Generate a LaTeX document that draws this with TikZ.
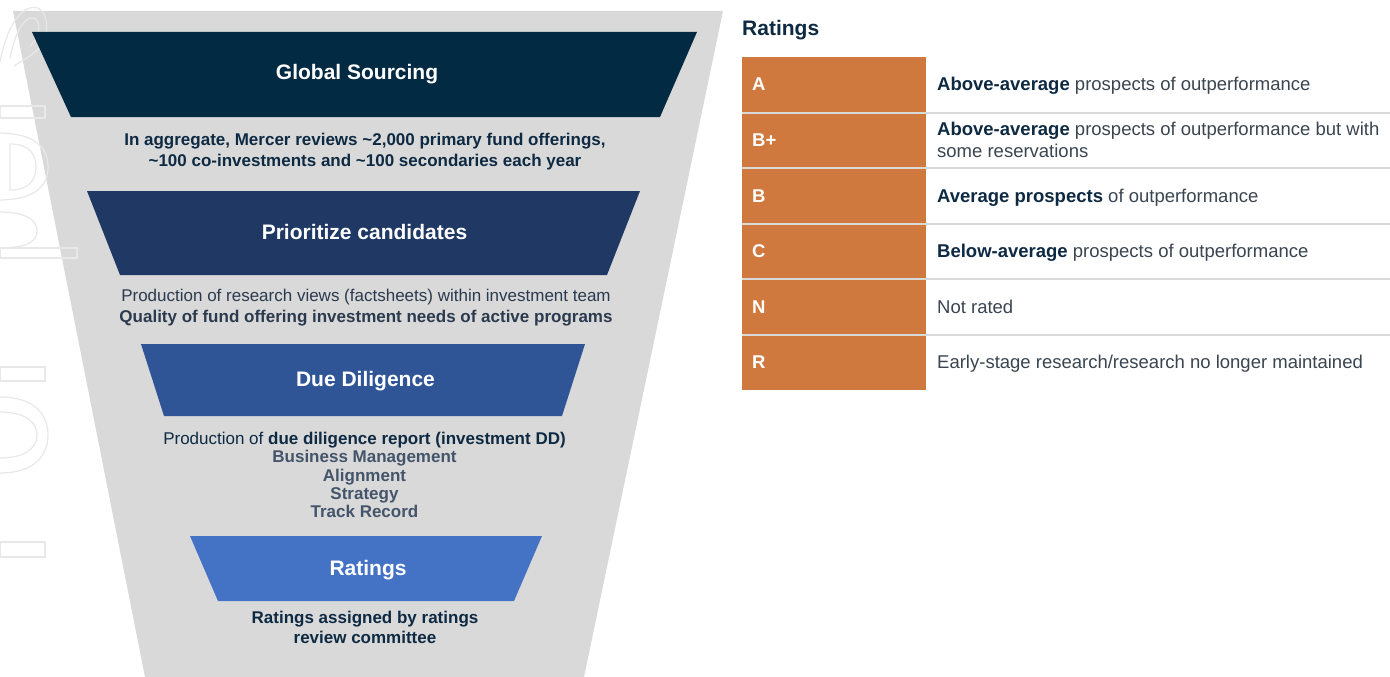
\documentclass[tikz,border=0pt]{standalone}
\usepackage{fontspec}
\setmainfont{Liberation Sans}
\definecolor{funnelgray}{HTML}{D9D9D9}
\definecolor{bandA}{HTML}{022A43}
\definecolor{bandB}{HTML}{1F3864}
\definecolor{bandC}{HTML}{2F5597}
\definecolor{bandD}{HTML}{4472C4}
\definecolor{rateorange}{HTML}{D0793F}
\definecolor{navytext}{HTML}{0E2A43}
\definecolor{regtext}{HTML}{3A4550}
\definecolor{slatetext}{HTML}{44546A}
\definecolor{subdark}{HTML}{2B3A4E}
\definecolor{sepgray}{HTML}{D9D9D9}
\definecolor{wmgray}{HTML}{E8E8E8}
\begin{document}
\begin{tikzpicture}[x=1pt,y=-1pt,
  band/.style={fill=#1,draw=none},
  headtxt/.style={font=\fontsize{21}{25}\selectfont\bfseries,text=white,anchor=base,inner sep=0pt},
  subtxt/.style={font=\fontsize{17}{21}\selectfont,anchor=base,inner sep=0pt},
  lettertxt/.style={font=\fontsize{18.5}{22}\selectfont\bfseries,text=white,anchor=base west,inner sep=0pt},
  desctxt/.style={font=\fontsize{18.5}{22}\selectfont,text=regtext,anchor=base west,inner sep=0pt},
  wm/.style={draw=wmgray,line width=1.2pt},
  sepline/.style={draw=sepgray,line width=2pt}]
\useasboundingbox (0,0) rectangle (1390,677);
\fill[white] (0,0) rectangle (1390,677);

% funnel background
\fill[funnelgray] (13,11) -- (723,11) -- (584,677) -- (145,677) -- cycle;

% faint watermark outlines at the left edge
\begin{scope}
\clip (0,0) rectangle (90,677);
\draw[wm] (0,62) .. controls (8,20) and (25,4) .. (38,8) .. controls (50,14) and (50,40) .. (35,52) .. controls (28,58) and (20,62) .. (14,66);
\draw[wm] (10,58) .. controls (16,28) and (26,16) .. (34,18) .. controls (42,22) and (40,38) .. (30,46);
\draw[wm] (0,106) rectangle (45,118);
\draw[wm] (-2,133) .. controls (38,133) and (48,150) .. (48,167) .. controls (48,184) and (38,200) .. (-2,200);
\draw[wm] (10,144) .. controls (30,144) and (36,155) .. (36,167) .. controls (36,179) and (30,190) .. (10,190) -- cycle;
\draw[wm] (-2,212) .. controls (30,212) and (37,222) .. (37,231) .. controls (37,240) and (30,248) .. (-2,248);
\draw[wm] (0,248) rectangle (77,258);
\draw[wm] (0,367) rectangle (45,381);
\draw[wm] (0,397) .. controls (35,397) and (48,415) .. (48,435) .. controls (48,455) and (35,473) .. (0,473);
\draw[wm] (0,412) .. controls (25,412) and (37,422) .. (37,435) .. controls (37,448) and (25,458) .. (0,458);
\draw[wm] (0,542) rectangle (45,557);
\end{scope}

% funnel bands
\fill[band=bandA] (32,32) -- (697,32) -- (660,117) -- (71,117) -- cycle;
\fill[band=bandB] (87,191) -- (640,191) -- (607,275) -- (120,275) -- cycle;
\fill[band=bandC] (141,344) -- (585,344) -- (562,416) -- (164,416) -- cycle;
\fill[band=bandD] (190,536) -- (542,536) -- (514,601) -- (218,601) -- cycle;

% band headings
\node[headtxt] (h1) at (357,80) {Global Sourcing};
\node[headtxt] (h2) at (364.5,239.5) {Prioritize candidates};
\node[headtxt] (h3) at (365.5,386.5) {Due Diligence};
\node[headtxt] (h4) at (368,575.5) {Ratings};

% sub texts
\node[subtxt,text=navytext,font=\fontsize{17}{21}\selectfont\bfseries] (s1a) at (365,145) {In aggregate, Mercer reviews \textasciitilde2,000 primary fund offerings,};
\node[subtxt,text=navytext,font=\fontsize{17}{21}\selectfont\bfseries] (s1b) at (365,166) {\textasciitilde100 co-investments and \textasciitilde100 secondaries each year};

\node[subtxt,text=subdark] (s2a) at (366,301) {Production of research views (factsheets) within investment team};
\node[subtxt,text=subdark,font=\fontsize{17}{21}\selectfont\bfseries] (s2b) at (366,322) {Quality of fund offering investment needs of active programs};

\node[subtxt,text=navytext] (s3a) at (364.5,444) {Production of \textbf{due diligence report (investment DD)}};
\node[subtxt,text=slatetext,font=\fontsize{17}{21}\selectfont\bfseries] (s3b) at (364.5,462) {Business Management};
\node[subtxt,text=slatetext,font=\fontsize{17}{21}\selectfont\bfseries] (s3c) at (364.5,481) {Alignment};
\node[subtxt,text=slatetext,font=\fontsize{17}{21}\selectfont\bfseries] (s3d) at (364.5,499) {Strategy};
\node[subtxt,text=slatetext,font=\fontsize{17}{21}\selectfont\bfseries] (s3e) at (364.5,517) {Track Record};

\node[subtxt,text=navytext,font=\fontsize{17}{21}\selectfont\bfseries] (s4a) at (365,623) {Ratings assigned by ratings};
\node[subtxt,text=navytext,font=\fontsize{17}{21}\selectfont\bfseries] (s4b) at (365,643) {review committee};

% ratings table
\node[font=\fontsize{21}{25}\selectfont\bfseries,text=navytext,anchor=base west,inner sep=0pt] (title) at (742,35.5) {Ratings};

\fill[rateorange] (742,57) rectangle (926,390);
\foreach \yy in {112.5,168,223.5,279,334.5} {
  \draw[sepline] (742,\yy) -- (1390,\yy);
}

\node[lettertxt] (lA) at (752,91) {A};
\node[lettertxt] (lBp) at (752,146.5) {B+};
\node[lettertxt] (lB) at (752,202) {B};
\node[lettertxt] (lC) at (752,257.5) {C};
\node[lettertxt] (lN) at (752,313) {N};
\node[lettertxt] (lR) at (752,368.5) {R};

\node[desctxt] (dA) at (937,91) {{\bfseries\color{navytext}Above-average} prospects of outperformance};
\node[desctxt] (dBp1) at (937,135.5) {{\bfseries\color{navytext}Above-average} prospects of outperformance but with};
\node[desctxt] (dBp2) at (937,157.5) {some reservations};
\node[desctxt] (dB) at (937,202) {{\bfseries\color{navytext}Average prospects} of outperformance};
\node[desctxt] (dC) at (937,257.5) {{\bfseries\color{navytext}Below-average} prospects of outperformance};
\node[desctxt] (dN) at (937,313) {Not rated};
\node[desctxt] (dR) at (937,368.5) {Early-stage research/research no longer maintained};
\end{tikzpicture}
\end{document}
